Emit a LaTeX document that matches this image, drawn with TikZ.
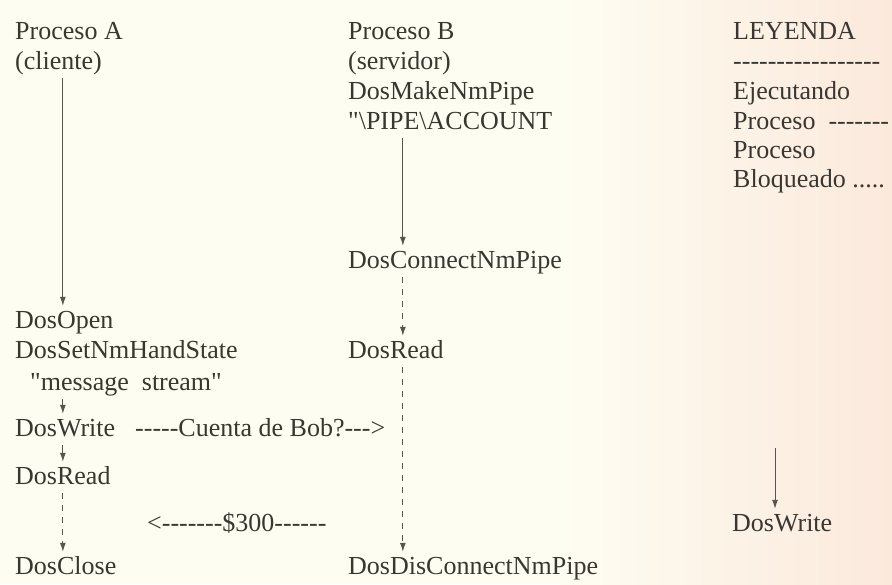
\documentclass[tikz,border=0pt]{standalone}
\usepackage{fontspec}
\setmainfont{Liberation Serif}[Ligatures=TeXOff]
\usetikzlibrary{positioning,arrows.meta}
\definecolor{paper}{RGB}{254,253,242}
\definecolor{paperpink}{RGB}{251,233,220}
\definecolor{ink}{RGB}{58,55,50}
\definecolor{pen}{RGB}{88,84,78}

\begin{document}
\begin{tikzpicture}[x=1pt,y=-1pt,>=Latex,
  txt/.style={anchor=west,inner sep=3pt,text=ink,font=\fontsize{26}{30}\selectfont,text height=18pt,text depth=6pt},
  arr/.style={->,draw=pen,line width=1pt,shorten >=1pt,>={Latex[length=9pt,width=6pt]}},
  darr/.style={arr,dash pattern=on 6pt off 6pt}]
  \useasboundingbox (0,0) rectangle (892,584);
  % paper
  \fill[paper] (0,0) rectangle (892,584);
  \shade[left color=paper,right color=paperpink] (560,0) rectangle (892,584);
  % client column
  \node[txt] (procA) at (12,33) {Proceso A};
  \node[txt] (cliente) at (12,63) {(cliente)};
  \node[txt] (dosopen) at (12,322) {DosOpen};
  \node[txt] (setnm) at (12,352) {DosSetNmHandState};
  \node[txt] (msgstr) at (27,384) {"message~ stream"};
  \node[txt] (dwA) at (12,430) {DosWrite};
  \node[txt] (drA) at (12,478) {DosRead};
  \node[txt] (closeA) at (12,568) {DosClose};
  % server column
  \node[txt] (procB) at (345,33) {Proceso B};
  \node[txt] (servidor) at (345,63) {(servidor)};
  \node[txt] (makepipe) at (345,93) {DosMakeNmPipe};
  \node[txt] (pipename) at (345,123) {"\textbackslash PIPE\textbackslash ACCOUNT};
  \node[txt] (connect) at (345,262) {DosConnectNmPipe};
  \node[txt] (drB) at (345,352) {DosRead};
  \node[txt] (disconn) at (345,568) {DosDisConnectNmPipe};
  \coordinate (lifeB) at ([xshift=7pt]drB.center);
  % messages
  \node[txt] (cuenta) at (132,430) {-----Cuenta de Bob?--->};
  \node[txt] (pago) at (144,525) {<-------\$300------};
  % legend
  \node[txt] (leyenda) at (730,33) {LEYENDA};
  \node[txt] (legline) at (730,63) {-----------------};
  \node[txt] (ejec) at (730,93) {Ejecutando};
  \node[txt] (procrun) at (730,123) {Proceso~ -------};
  \node[txt] (procblk) at (730,152) {Proceso};
  \node[txt] (bloq) at (730,181) {Bloqueado .....};
  \node[txt] (legdw) at (729,525) {DosWrite};
  \coordinate (legtop) at (775,448);

  \draw[arr] (cliente.south -| drA) -- (dosopen.north -| drA);
  \draw[arr] (msgstr.south -| drA) -- (dwA.north -| drA);
  \draw[arr] (dwA.south -| drA) -- (drA.north);
  \draw[darr] (drA.south) -- (closeA.north -| drA);
  \draw[arr] (pipename.south -| lifeB) -- (connect.north -| lifeB);
  \draw[darr] (connect.south -| lifeB) -- (drB.north -| lifeB);
  \draw[darr] (drB.south -| lifeB) -- (disconn.north -| lifeB);
  \draw[arr] (legtop) -- (legtop |- legdw.north);
\end{tikzpicture}
\end{document}
